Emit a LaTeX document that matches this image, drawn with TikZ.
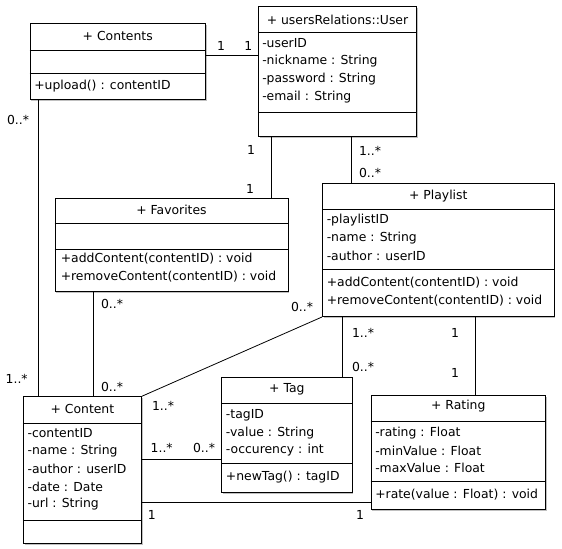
\documentclass[tikz,border=0pt]{standalone}
\usepackage{fontspec}
\setmainfont{DejaVu Sans}
\usepackage{tikz}
\usetikzlibrary{fit,shadows}

\tikzset{
  umlclass/.style={draw, line width=0.75pt, fill=white, inner sep=0pt,
    drop shadow={shadow xshift=1.1pt, shadow yshift=-1.1pt, fill=black!55, opacity=.45}},
  sepline/.style={line width=0.75pt},
  assoc/.style={line width=0.6pt},
  member/.style={anchor=west, inner sep=0pt, font=\fontsize{9.3}{11}\selectfont},
  title/.style={inner sep=0pt, font=\fontsize{9.3}{11}\selectfont},
  mult/.style={inner sep=0pt, font=\fontsize{9.3}{11}\selectfont}
}

\begin{document}
\begin{tikzpicture}[x=0.75pt,y=0.75pt,yscale=-1,xscale=1]
\useasboundingbox (0,0) rectangle (562,549);

%Shape: Class Contents
\node [umlclass, fit={(30,24) (205.5,100)}] (contents) {};
\draw [sepline] (contents.west |- 0,50.5) -- (contents.east |- 0,50.5) ;
\draw [sepline] (contents.west |- 0,74) -- (contents.east |- 0,74) ;

%Shape: Class User
\node [umlclass, fit={(258.3,6.7) (416.7,136.7)}] (user) {};
\draw [sepline] (user.west |- 0,32.7) -- (user.east |- 0,32.7) ;
\draw [sepline] (user.west |- 0,112.7) -- (user.east |- 0,112.7) ;

%Shape: Class Favorites
\node [umlclass, fit={(55,199) (288,291.7)}] (favorites) {};
\draw [sepline] (favorites.west |- 0,224) -- (favorites.east |- 0,224) ;
\draw [sepline] (favorites.west |- 0,249.3) -- (favorites.east |- 0,249.3) ;

%Shape: Class Playlist
\node [umlclass, fit={(322.5,183.3) (554,316.5)}] (playlist) {};
\draw [sepline] (playlist.west |- 0,210) -- (playlist.east |- 0,210) ;
\draw [sepline] (playlist.west |- 0,269.5) -- (playlist.east |- 0,269.5) ;

%Shape: Class Content
\node [umlclass, fit={(23.3,396.7) (141.5,543.3)}] (content) {};
\draw [sepline] (content.west |- 0,423.3) -- (content.east |- 0,423.3) ;
\draw [sepline] (content.west |- 0,520.7) -- (content.east |- 0,520.7) ;

%Shape: Class Tag
\node [umlclass, fit={(221.7,378) (352,492.3)}] (tag) {};
\draw [sepline] (tag.west |- 0,404) -- (tag.east |- 0,404) ;
\draw [sepline] (tag.west |- 0,463.3) -- (tag.east |- 0,463.3) ;

%Shape: Class Rating
\node [umlclass, fit={(371,395.7) (545.7,509.3)}] (rating) {};
\draw [sepline] (rating.west |- 0,421.7) -- (rating.east |- 0,421.7) ;
\draw [sepline] (rating.west |- 0,481.7) -- (rating.east |- 0,481.7) ;

%Straight Lines
\draw [assoc] (contents.east |- 0,55) -- (user.west |- 0,55) ;
%Straight Lines
\draw [assoc] (contents.south -| 38.5,0) -- (content.north -| 38.5,0) ;
%Straight Lines
\draw [assoc] (user.south -| 271,0) -- (favorites.north -| 271,0) ;
%Straight Lines
\draw [assoc] (user.south -| 351,0) -- (playlist.north -| 351,0) ;
%Straight Lines
\draw [assoc] (favorites.south -| 93.3,0) -- (content.north -| 93.3,0) ;
%Straight Lines
\draw [assoc] (playlist.south west) -- (content.north east) ;
%Straight Lines
\draw [assoc] (playlist.south -| 342.5,0) -- (tag.north -| 342.5,0) ;
%Straight Lines
\draw [assoc] (playlist.south -| 475.5,0) -- (rating.north -| 475.5,0) ;
%Straight Lines
\draw [assoc] (content.east |- 0,459.3) -- (tag.west |- 0,459.3) ;
%Straight Lines
\draw [assoc] (content.east |- 0,502.7) -- (rating.west |- 0,502.7) ;

% Text Node
\draw (117.75,36) node [title] (contentsT) {+ Contents};
\draw (34,86) node [member] (contentsM1) {+upload() : contentID};
% Text Node
\draw (337.5,19.5) node [title] (userT) {+ usersRelations::User};
\draw (262,43.3) node [member] (userA1) {-userID};
\draw (262,61.3) node [member] (userA2) {-nickname : String};
\draw (262,79.3) node [member] (userA3) {-password : String};
\draw (262,97.3) node [member] (userA4) {-email : String};
% Text Node
\draw (171.5,210) node [title] (favoritesT) {+ Favorites};
\draw (60.5,258.7) node [member] (favoritesM1) {+addContent(contentID) : void};
\draw (60.5,276.5) node [member] (favoritesM2) {+removeContent(contentID) : void};
% Text Node
\draw (438.3,196) node [title] (playlistT) {+ Playlist};
\draw (326.5,220) node [member] (playlistA1) {-playlistID};
\draw (326.5,238) node [member] (playlistA2) {-name : String};
\draw (326.5,256) node [member] (playlistA3) {-author : userID};
\draw (326.5,283) node [member] (playlistM1) {+addContent(contentID) : void};
\draw (326.5,300.5) node [member] (playlistM2) {+removeContent(contentID) : void};
% Text Node
\draw (82.4,408.5) node [title] (contentT) {+ Content};
\draw (27.3,433.3) node [member] (contentA1) {-contentID};
\draw (27.3,451) node [member] (contentA2) {-name : String};
\draw (27.3,468.7) node [member] (contentA3) {-author : userID};
\draw (27.3,486.4) node [member] (contentA4) {-date : Date};
\draw (27.3,504.1) node [member] (contentA5) {-url : String};
% Text Node
\draw (286.9,389) node [title] (tagT) {+ Tag};
\draw (225.7,415) node [member] (tagA1) {-tagID};
\draw (225.7,433) node [member] (tagA2) {-value : String};
\draw (225.7,450.5) node [member] (tagA3) {-occurency : int};
\draw (225.7,476.7) node [member] (tagM1) {+newTag() : tagID};
% Text Node
\draw (458.3,406.5) node [title] (ratingT) {+ Rating};
\draw (375,432.7) node [member] (ratingA1) {-rating : Float};
\draw (375,450.5) node [member] (ratingA2) {-minValue : Float};
\draw (375,468.3) node [member] (ratingA3) {-maxValue : Float};
\draw (375,495) node [member] (ratingM1) {+rate(value : Float) : void};

% Text Node
\draw (221,46) node [mult] (m1a) {1};
\draw (248.3,46) node [mult] (m1b) {1};
\draw (18,120) node [mult] (m2a) {0..*};
\draw (16.7,379) node [mult] (m2b) {1..*};
\draw (251,150) node [mult] (m3a) {1};
\draw (250,189) node [mult] (m3b) {1};
\draw (370,150.7) node [mult] (m4a) {1..*};
\draw (370,173) node [mult] (m4b) {0..*};
\draw (112,304) node [mult] (m5a) {0..*};
\draw (112,387) node [mult] (m5b) {0..*};
\draw (302,307) node [mult] (m6a) {0..*};
\draw (163,406) node [mult] (m6b) {1..*};
\draw (363,332.7) node [mult] (m7a) {1..*};
\draw (363,366.7) node [mult] (m7b) {0..*};
\draw (455,332.7) node [mult] (m8a) {1};
\draw (455,372.7) node [mult] (m8b) {1};
\draw (161.7,448.3) node [mult] (m9a) {1..*};
\draw (204,448.3) node [mult] (m9b) {0..*};
\draw (151.7,515) node [mult] (m10a) {1};
\draw (360,515) node [mult] (m10b) {1};

\end{tikzpicture}
\end{document}
